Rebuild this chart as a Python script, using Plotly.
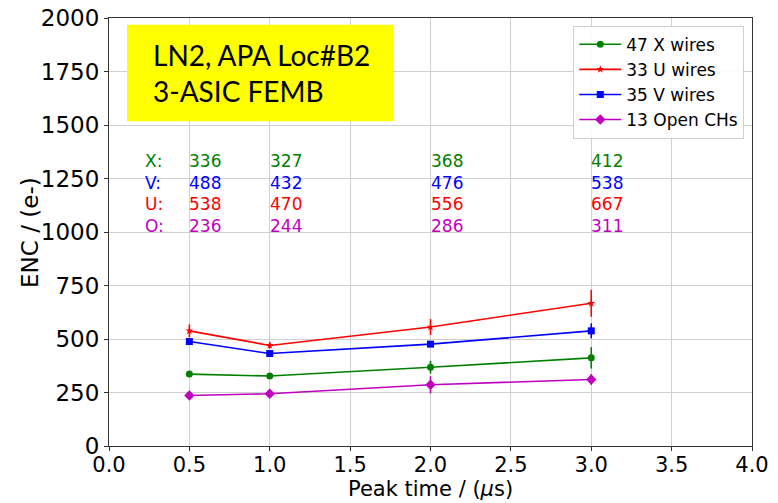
import plotly.graph_objects as go

# Peaking times (us) and mean ENC per wire plane
peak_time = [0.5, 1.0, 2.0, 3.0]

enc_x = [336, 327, 368, 412]
enc_u = [538, 470, 556, 667]
enc_v = [488, 432, 476, 538]
enc_o = [236, 244, 286, 311]

err_x = [8, 8, 30, 50]
err_u = [30, 15, 37, 63]
err_v = [10, 10, 12, 35]
err_o = [10, 10, 40, 25]

series_names = ["47 X wires", "33 U wires", "35 V wires", "13 Open CHs"]
row_labels = ["X:", "V:", "U:", "O:"]

x_ticks = [0.0, 0.5, 1.0, 1.5, 2.0, 2.5, 3.0, 3.5, 4.0]
y_ticks = [0, 250, 500, 750, 1000, 1250, 1500, 1750, 2000]

GREEN, RED, BLUE, MAGENTA = "#008000", "#ff0000", "#0000ff", "#bf00bf"
FONT = "DejaVu Sans"

fig = go.Figure()

def add_series(y, err, name, color, symbol, size):
    fig.add_trace(go.Scatter(
        x=peak_time, y=y, name=name, mode="lines+markers",
        line=dict(color=color, width=1.6),
        marker=dict(color=color, symbol=symbol, size=size, line=dict(width=0)),
        error_y=dict(type="data", array=err, visible=True, color=color,
                     thickness=1.6, width=0),
    ))

add_series(enc_x, err_x, series_names[0], GREEN, "circle", 7)
add_series(enc_u, err_u, series_names[1], RED, "star", 6)
add_series(enc_v, err_v, series_names[2], BLUE, "square", 7)
add_series(enc_o, err_o, series_names[3], MAGENTA, "diamond", 8)

# Value table printed above the curves
table_rows = [
    (row_labels[0], enc_x, GREEN, 1330),
    (row_labels[1], enc_v, BLUE, 1228),
    (row_labels[2], enc_u, RED, 1130),
    (row_labels[3], enc_o, MAGENTA, 1028),
]
annotations = []
for label, vals, color, ypos in table_rows:
    annotations.append(dict(x=0.21, y=ypos, xref="x", yref="y", text=label,
                            showarrow=False, xanchor="left", yanchor="middle",
                            font=dict(family=FONT, size=17, color=color)))
    for xv, v in zip(peak_time, vals):
        annotations.append(dict(x=xv, y=ypos, xref="x", yref="y", text=str(v),
                                showarrow=False, xanchor="left", yanchor="middle",
                                xshift=-2,
                                font=dict(family=FONT, size=17, color=color)))

# Condition label
annotations.append(dict(
    x=0.066, y=0.872, xref="paper", yref="paper",
    text="LN2, APA Loc#B2<br>3-ASIC FEMB", showarrow=False,
    xanchor="left", yanchor="middle", align="left",
    font=dict(family="Lato", size=28, color="black"),
))

# Axis titles
annotations.append(dict(
    x=0.5, y=-0.1305, xref="paper", yref="paper",
    text="Peak time / (<i>μ</i>s)", showarrow=False,
    xanchor="center", yanchor="bottom", borderpad=0,
    font=dict(family=FONT, size=21, color="black"),
))
annotations.append(dict(
    x=-0.123, y=0.5, xref="paper", yref="paper",
    text="ENC / (e-)", showarrow=False, textangle=-90,
    xanchor="center", yanchor="middle",
    font=dict(family=FONT, size=23, color="black"),
))

shapes = [dict(type="rect", xref="paper", yref="paper",
               x0=0.028, x1=0.442, y0=0.759, y1=0.984,
               fillcolor="#ffff00", line=dict(width=0), layer="above")]

fig.update_layout(
    width=778, height=503,
    margin=dict(l=109, r=26, t=18, b=57),
    paper_bgcolor="white", plot_bgcolor="white",
    font=dict(family=FONT, size=23, color="black"),
    showlegend=True,
    legend=dict(x=0.988, y=0.982, xanchor="right", yanchor="top",
                bgcolor="rgba(255,255,255,0.9)", bordercolor="#d0d0d0",
                borderwidth=1, font=dict(family=FONT, size=17),
                itemwidth=42, tracegroupgap=0),
    xaxis=dict(range=[0, 4], tickvals=x_ticks,
               ticktext=[f"{t:.1f}" for t in x_ticks],
               showgrid=True, gridcolor="#d0d0d0", gridwidth=1,
               showline=True, linecolor="#333333", linewidth=1, mirror=True,
               ticks="outside", ticklen=4, tickcolor="#333333",
               tickfont=dict(family=FONT, size=21), ticklabelstandoff=-4,
               zeroline=False, automargin=False),
    yaxis=dict(range=[0, 2000], tickvals=y_ticks,
               showgrid=True, gridcolor="#d0d0d0", gridwidth=1,
               showline=True, linecolor="#333333", linewidth=1, mirror=True,
               ticks="outside", ticklen=4, tickcolor="#333333",
               zeroline=False, automargin=False),
    annotations=annotations,
    shapes=shapes,
)

fig.write_html("out.html")
